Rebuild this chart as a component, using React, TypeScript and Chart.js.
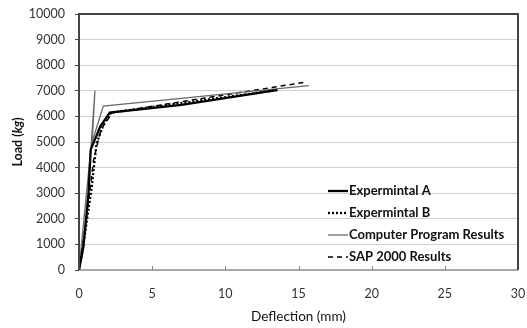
import React, { useEffect, useRef } from "react";
import { Chart, registerables } from "chart.js";

Chart.register(...registerables);

// Load–deflection curves (deflection in mm, load in kg)
const expADeflection = [0, 0.3, 0.65, 0.8, 1.45, 2.1, 7.0, 13.5];
const expALoad = [0, 900, 3000, 4700, 5600, 6150, 6450, 7030];

const expBDeflection = [0, 0.3, 0.87, 1.2, 1.66, 2.2, 8.0, 13.6];
const expBLoad = [0, 980, 3250, 4950, 5660, 6150, 6600, 7030];

const programDeflection = [0, 0.82, 1.09, 0.9, 1.66, 15.7];
const programLoad = [0, 4800, 7000, 5000, 6400, 7200];

const sapDeflection = [0, 0.5, 1.0, 1.5, 2.3, 15.4];
const sapLoad = [0, 2000, 4300, 5500, 6150, 7330];

const seriesLabels = [
  "Expermintal A",
  "Expermintal B",
  "Computer Program Results",
  "SAP 2000 Results",
];

const xTicks = [0, 5, 10, 15, 20, 25, 30];
const yTicks = [0, 1000, 2000, 3000, 4000, 5000, 6000, 7000, 8000, 9000, 10000];

const FONT = "Lato, 'Open Sans', sans-serif";

const toPoints = (xs: number[], ys: number[]) => xs.map((x, i) => ({ x, y: ys[i] }));

const frameAndLabels = {
  id: "frameAndLabels",
  afterDraw(chart: any) {
    const { ctx, chartArea: a, scales } = chart;
    ctx.save();
    // inward tick marks on the deflection axis
    ctx.strokeStyle = "#888";
    ctx.lineWidth = 1;
    xTicks.forEach((v) => {
      if (v === 0 || v === 30) return;
      const px = Math.round(scales.x.getPixelForValue(v)) + 0.5;
      ctx.beginPath();
      ctx.moveTo(px, a.bottom);
      ctx.lineTo(px, a.bottom - 4);
      ctx.stroke();
    });
    // plot frame
    ctx.strokeStyle = "#8a8a8a";
    ctx.lineWidth = 1.5;
    ctx.beginPath();
    ctx.moveTo(a.left, a.bottom);
    ctx.lineTo(a.right, a.bottom);
    ctx.stroke();
    ctx.strokeStyle = "#444";
    ctx.lineWidth = 2;
    ctx.beginPath();
    ctx.moveTo(a.left, a.bottom);
    ctx.lineTo(a.left, a.top);
    ctx.lineTo(a.right, a.top);
    ctx.lineTo(a.right, a.bottom);
    ctx.stroke();

    // y-axis title with italic unit
    ctx.translate(18, (a.top + a.bottom) / 2);
    ctx.rotate(-Math.PI / 2);
    ctx.fillStyle = "#111";
    ctx.textBaseline = "middle";
    const parts: [string, string][] = [
      ["Load (", `bold 12.5px ${FONT}`],
      ["kg", `italic bold 12.5px ${FONT}`],
      [")", `bold 12.5px ${FONT}`],
    ];
    let total = 0;
    parts.forEach(([t, f]) => {
      ctx.font = f;
      total += ctx.measureText(t).width;
    });
    let cx = -total / 2;
    ctx.textAlign = "left";
    parts.forEach(([t, f]) => {
      ctx.font = f;
      ctx.fillText(t, cx, 0);
      cx += ctx.measureText(t).width;
    });
    ctx.restore();

    // legend
    ctx.save();
    const rows = [191, 213, 235, 257];
    chart.data.datasets.forEach((ds: any, i: number) => {
      const y = rows[i];
      ctx.strokeStyle = ds.borderColor;
      ctx.lineWidth = ds.borderWidth;
      ctx.setLineDash(ds.borderDash || []);
      ctx.beginPath();
      ctx.moveTo(328, y);
      ctx.lineTo(348, y);
      ctx.stroke();
      ctx.setLineDash([]);
      ctx.fillStyle = "#111";
      ctx.font = `bold 13px ${FONT}`;
      ctx.textBaseline = "middle";
      ctx.textAlign = "left";
      ctx.fillText(ds.label, 349, y);
    });
    ctx.restore();
  },
};

export default function App() {
  const canvasRef = useRef<HTMLCanvasElement | null>(null);

  useEffect(() => {
    const canvas = canvasRef.current;
    if (!canvas) return;
    const chart = new Chart(canvas, {
      type: "scatter",
      data: {
        datasets: [
          {
            label: seriesLabels[0],
            data: toPoints(expADeflection, expALoad),
            showLine: true,
            borderColor: "#000",
            borderWidth: 2.3,
            pointRadius: 0,
          },
          {
            label: seriesLabels[1],
            data: toPoints(expBDeflection, expBLoad),
            showLine: true,
            borderColor: "#000",
            borderWidth: 2.3,
            borderDash: [2, 2],
            pointRadius: 0,
          },
          {
            label: seriesLabels[2],
            data: toPoints(programDeflection, programLoad),
            showLine: true,
            borderColor: "#6a6a6a",
            borderWidth: 1.3,
            pointRadius: 0,
          },
          {
            label: seriesLabels[3],
            data: toPoints(sapDeflection, sapLoad),
            showLine: true,
            borderColor: "#000",
            borderWidth: 1.5,
            borderDash: [5, 4],
            pointRadius: 0,
          },
        ],
      },
      options: {
        responsive: false,
        animation: false,
        layout: { padding: { top: 14, right: 9, left: 0, bottom: 0 } },
        plugins: { legend: { display: false }, tooltip: { enabled: false } },
        scales: {
          x: {
            type: "linear",
            min: 0,
            max: 30,
            afterBuildTicks: (s: any) => {
              s.ticks = xTicks.map((v) => ({ value: v }));
            },
            afterFit: (s: any) => {
              s.height = 58;
              s.paddingLeft = 0;
              s.paddingRight = 0;
            },
            border: { display: false },
            grid: { display: false },
            ticks: {
              color: "#333",
              font: { family: FONT, size: 12.5 },
              padding: 8,
              maxRotation: 0,
            },
            title: {
              display: true,
              text: "Deflection (mm)",
              color: "#111",
              font: { family: FONT, size: 13.5 },
              padding: { top: 5, bottom: 3 },
            },
          },
          y: {
            type: "linear",
            min: 0,
            max: 10000,
            afterBuildTicks: (s: any) => {
              s.ticks = yTicks.map((v) => ({ value: v }));
            },
            afterFit: (s: any) => {
              s.width = 79;
              s.paddingTop = 0;
              s.paddingBottom = 0;
            },
            border: { display: false },
            grid: {
              color: (c: any) => (c.tick && c.tick.value === 0 ? "rgba(0,0,0,0)" : "#cfcfcf"),
              tickColor: "#444",
              tickLength: 4,
              lineWidth: 1,
              drawOnChartArea: true,
            },
            ticks: {
              color: "#333",
              font: { family: FONT, size: 12.5 },
              padding: 10,
              callback: (v: any) => String(v),
            },
          },
        },
      },
      plugins: [frameAndLabels],
    });
    return () => chart.destroy();
  }, []);

  return (
    <div style={{ position: "fixed", left: 0, top: 0, width: 527, height: 328, background: "#fff" }}>
      <canvas ref={canvasRef} width={527} height={328} />
    </div>
  );
}
